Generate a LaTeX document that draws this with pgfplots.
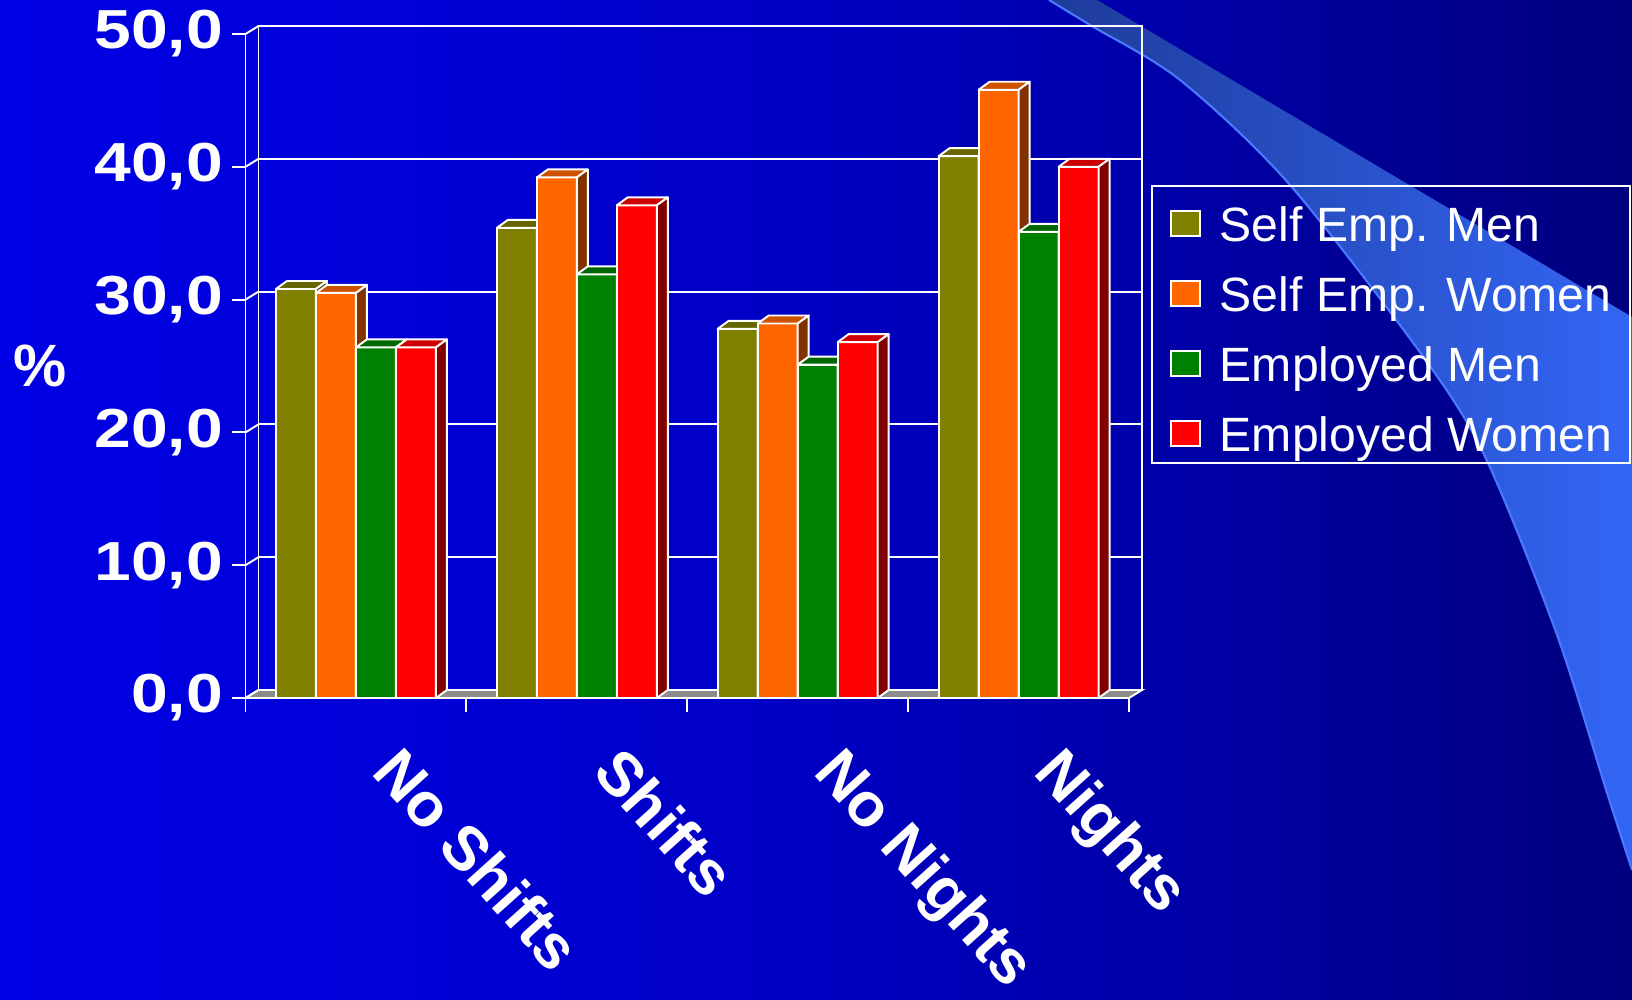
\documentclass[border=0pt]{standalone}
\usepackage{pgfplots}
\usepackage{pgfplotstable}
\pgfplotsset{compat=1.18}
\usepackage{fontspec}
\setmainfont{Liberation Sans}

% slide background
\definecolor{bg0}{HTML}{0000F2}
\definecolor{bg1}{HTML}{0000EC}
\definecolor{bg2}{HTML}{0000D8}
\definecolor{bg3}{HTML}{0000C4}
\definecolor{bg4}{HTML}{0000A8}
\definecolor{bg5}{HTML}{000095}
\definecolor{bg6}{HTML}{000070}
\definecolor{bg7}{HTML}{000035}
\definecolor{swooshA}{HTML}{1E3B9A}
\definecolor{swooshB}{HTML}{3366F5}
\definecolor{swooshLine}{HTML}{4A78FF}
\definecolor{floorgray}{HTML}{8C8C8C}
% column faces: front (F), top (T), side (S) for series 0..3
\definecolor{bF0}{HTML}{808000}
\definecolor{bT0}{HTML}{666600}
\definecolor{bS0}{HTML}{404000}
\definecolor{bF1}{HTML}{FF6600}
\definecolor{bT1}{HTML}{CC5200}
\definecolor{bS1}{HTML}{803300}
\definecolor{bF2}{HTML}{008000}
\definecolor{bT2}{HTML}{006600}
\definecolor{bS2}{HTML}{004000}
\definecolor{bF3}{HTML}{FF0000}
\definecolor{bT3}{HTML}{CC0000}
\definecolor{bS3}{HTML}{800000}

\pgfdeclarehorizontalshading{slidebg}{100bp}{color(0bp)=(bg0); color(18bp)=(bg1); color(37bp)=(bg2); color(49bp)=(bg3); color(61bp)=(bg4); color(67bp)=(bg5); color(80bp)=(bg6); color(100bp)=(bg7)}

\pgfdeclareplotmark{blank}{}

% one y unit of the axis (66.4mm for 0..50)
\newdimen\yunit \yunit=1.328mm
\newdimen\barh
% a box-shaped column drawn down from the data point;
% \ry = value, \sidx = series index (face colours)
\newcommand\cubebar{%
  \global\barh=\ry\yunit
  \edef\fc{bF\sidx}\edef\tc{bT\sidx}\edef\sc{bS\sidx}%
  \begin{scope}[line width=0.55pt, draw=white, line join=round]
    \filldraw[fill=\fc] (-2mm,-\barh) rectangle (2mm,0pt);
    \filldraw[fill=\tc] (-2mm,0pt) -- (2mm,0pt) -- (3.1mm,0.8mm) -- (-0.9mm,0.8mm) -- cycle;
    \filldraw[fill=\sc] (2mm,0pt) -- (3.1mm,0.8mm) -- (3.1mm,0.8mm-\barh) -- (2mm,-\barh) -- cycle;
  \end{scope}}

\newcommand\yl[1]{\scalebox{1.2}[1]{#1}}

\pgfplotsset{
  bar3d/.style={
    scatter, only marks, mark=blank,
    visualization depends on={rawy \as \ry},
    visualization depends on={value #1 \as \sidx},
    scatter/@pre marker code/.code={\cubebar},
    scatter/@post marker code/.code={},
    legend image code/.code={\draw[white, line width=0.5pt, fill=bF#1] (0mm,-1.68mm) rectangle (2.9mm,0.82mm);}
  }
}

\pgfplotstableread{
cat SEM SEW EM EW
0 30.8 30.5 26.4 26.4
1 35.4 39.2 31.9 37.1
2 27.8 28.2 25.1 26.8
3 40.8 45.8 35.1 40.0
}\shiftdata

\begin{document}
\begin{tikzpicture}
\useasboundingbox (0,0) rectangle (163.2mm,100mm);
\begin{scope}[x=0.1mm,y=0.1mm]
\shade[shading=slidebg] (0,0) rectangle (1632,1000);
% decorative swoosh of the slide template
\shade[left color=swooshA, right color=swooshB]
  (1097,1000) -- (1632,683) -- (1632,130)
  -- plot[smooth] coordinates {(1632,130) (1607,207) (1557,365) (1487,539) (1427,638) (1290,815) (1180,920) (1090,975) (1049,1000)}
  -- cycle;
\draw[swooshLine, line width=0.6pt] plot[smooth] coordinates {(1632,130) (1607,207) (1557,365) (1487,539) (1427,638) (1290,815) (1180,920) (1090,975) (1049,1000)};
\end{scope}

\begin{axis}[
  at={(24.55mm,30.2mm)}, anchor=south west,
  scale only axis, width=88.35mm, height=66.4mm,
  xmin=-0.5, xmax=3.5, ymin=0, ymax=50,
  clip=false,
  axis x line*=bottom, axis y line*=left,
  axis line style={white, line width=0.55pt},
  tick align=outside,
  major tick length=1.4mm, minor tick length=1.4mm,
  xtick={0,1,2,3},
  xticklabels={No Shifts, Shifts, No Nights, Nights},
  minor xtick={-0.5,0.5,1.5,2.5,3.5},
  major x tick style={draw=none},
  minor x tick style={white, line width=0.55pt},
  ytick={0,10,20,30,40,50},
  yticklabels={\yl{0,0},\yl{10,0},\yl{20,0},\yl{30,0},\yl{40,0},\yl{50,0}},
  y tick style={white, line width=0.55pt},
  ymajorgrids,
  major grid style={white, line width=0.55pt, xshift=1.3mm, yshift=0.8mm},
  tick label style={text=white},
  yticklabel style={font=\fontsize{15.65}{18}\selectfont\bfseries, anchor=east, inner sep=0pt, xshift=-0.8mm},
  xticklabel style={font=\fontsize{17.6}{21}\selectfont\bfseries, inner sep=0pt, anchor=north west, rotate=-48, xshift=5.43mm, yshift=1.53mm},
  ylabel={\%},
  every axis y label/.style={at={(rel axis cs:-0.2326,0.5)}, anchor=center, font=\fontsize{17}{20}\selectfont\bfseries, text=white},
  legend cell align=left,
  legend style={at={(rel axis cs:1.0249,0.7726)}, anchor=north west,
    draw=white, line width=0.6pt, fill=none, text=white,
    font=\fontsize{13.7}{16}\selectfont,
    inner xsep=1.8mm, inner ysep=1mm, row sep=2.3mm, column sep=1.9mm,
    nodes={inner sep=0pt, text height=4.5mm, text depth=0.2mm}},
]
% floor and back wall
\filldraw[fill=floorgray, draw=white, line width=0.55pt]
  (axis cs:-0.5,0) -- (axis cs:3.5,0) -- ++(1.3mm,0.8mm)
  -- ([shift={(1.3mm,0.8mm)}]axis cs:-0.5,0) -- cycle;
\draw[white, line width=0.55pt] ([shift={(1.3mm,0.8mm)}]axis cs:-0.5,0) rectangle ([shift={(1.3mm,0.8mm)}]axis cs:3.5,50);
\pgfplotsinvokeforeach{0,10,20,30,40,50}{
  \draw[white, line width=0.55pt] (axis cs:-0.5,#1) -- ++(1.3mm,0.8mm);
}

% four columns per category, 0.1811 category units wide each
\addplot[bar3d=0] table[x expr=\thisrow{cat}-0.2716, y=SEM] {\shiftdata};
\addlegendentry{Self Emp. Men}
\addplot[bar3d=1] table[x expr=\thisrow{cat}-0.0905, y=SEW] {\shiftdata};
\addlegendentry{Self Emp. Women}
\addplot[bar3d=2] table[x expr=\thisrow{cat}+0.0905, y=EM] {\shiftdata};
\addlegendentry{Employed Men}
\addplot[bar3d=3] table[x expr=\thisrow{cat}+0.2716, y=EW] {\shiftdata};
\addlegendentry{Employed Women}
\end{axis}
\end{tikzpicture}
\end{document}
